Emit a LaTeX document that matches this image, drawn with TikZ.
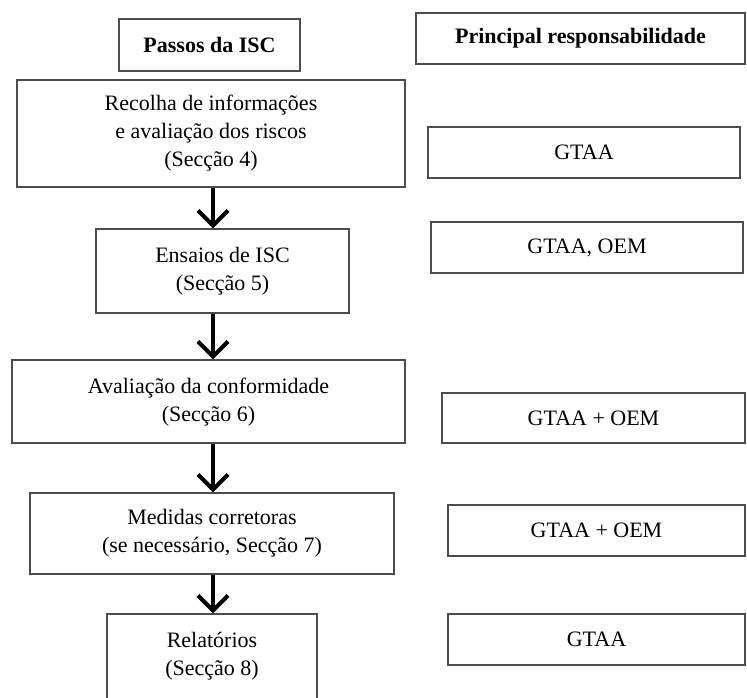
\documentclass[tikz,border=0pt]{standalone}
\usepackage{fontspec}
\setmainfont{Liberation Serif}
\usetikzlibrary{arrows.meta}
\tikzset{
  stepbox/.style={draw=black!70, line width=1.1pt, align=center, inner sep=0pt},
  downarrow/.style={line width=4.2pt, -{Straight Barb[length=15pt,width=30pt]}},
}
\begin{document}
\begin{tikzpicture}[x=1pt,y=-1pt,font=\fontsize{22}{28}\selectfont]
  \useasboundingbox (0,0) rectangle (747,698);
  \coordinate (axis) at (213,0);
  % column headers
  \node[stepbox, minimum width=181pt, minimum height=52pt] (passos) at (209.5,45) {\textbf{Passos da ISC}};
  \node[stepbox, minimum width=329pt, minimum height=51pt] (principal) at (580.5,38.5) {\textbf{Principal responsabilidade}};
  % steps
  \node[stepbox, minimum width=388pt, minimum height=107pt] (recolha) at (211,133.5) {Recolha de informações\\e avaliação dos riscos\\(Secção 4)};
  \node[stepbox, minimum width=253pt, minimum height=84pt] (ensaios) at (222.5,271) {Ensaios de ISC\\(Secção 5)};
  \node[stepbox, minimum width=393pt, minimum height=83pt] (avaliacao) at (208.5,401.5) {\raisebox{7pt}{\begin{tabular}{@{}c@{}}Avaliação da conformidade\\(Secção 6)\end{tabular}}};
  \node[stepbox, minimum width=364pt, minimum height=81pt] (medidas) at (212,533.5) {Medidas corretoras\\(se necessário, Secção 7)};
  \node[stepbox, minimum width=210pt, minimum height=85pt] (relatorios) at (212,656.5) {Relatórios\\(Secção 8)};
  % responsibilities
  \node[stepbox, minimum width=312pt, minimum height=51pt] (gtaa) at (584,152.5) {GTAA};
  \node[stepbox, minimum width=312pt, minimum height=51pt] (gtaaoem) at (587,247.5) {GTAA, OEM};
  \node[stepbox, minimum width=303pt, minimum height=50pt] (conjA) at (593.5,418) {GTAA + OEM};
  \node[stepbox, minimum width=297pt, minimum height=51pt] (conjB) at (596.5,530.5) {GTAA + OEM};
  \node[stepbox, minimum width=297pt, minimum height=51pt] (gtaaC) at (596.5,639.5) {GTAA};
  % arrows between steps
  \draw[downarrow] (recolha.south -| axis) -- (ensaios.north -| axis);
  \draw[downarrow] (ensaios.south -| axis) -- (avaliacao.north -| axis);
  \draw[downarrow] (avaliacao.south -| axis) -- (medidas.north -| axis);
  \draw[downarrow] (medidas.south -| axis) -- (relatorios.north -| axis);
\end{tikzpicture}
\end{document}
